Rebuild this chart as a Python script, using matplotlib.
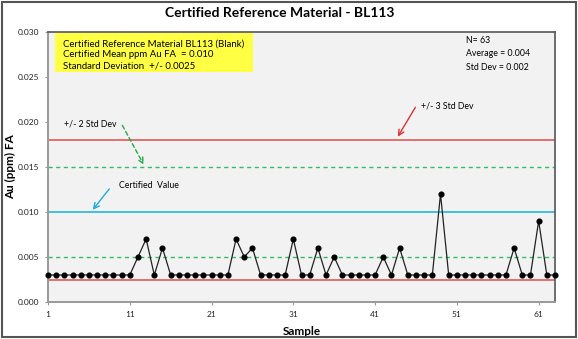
import matplotlib
matplotlib.use("Agg")
import matplotlib.pyplot as plt
from matplotlib.patches import Rectangle
from matplotlib.ticker import FormatStrFormatter

plt.rcParams["font.family"] = ["Lato", "DejaVu Sans"]

# assay results for the blank standard, samples 1..63
samples = list(range(1, 64))
au_ppm = [
    0.003, 0.003, 0.003, 0.003, 0.003, 0.003, 0.003, 0.003, 0.003, 0.003,
    0.003, 0.005, 0.007, 0.003, 0.006, 0.003, 0.003, 0.003, 0.003, 0.003,
    0.003, 0.003, 0.003, 0.007, 0.005, 0.006, 0.003, 0.003, 0.003, 0.003,
    0.007, 0.003, 0.003, 0.006, 0.003, 0.005, 0.003, 0.003, 0.003, 0.003,
    0.003, 0.005, 0.003, 0.006, 0.003, 0.003, 0.003, 0.003, 0.012, 0.003,
    0.003, 0.003, 0.003, 0.003, 0.003, 0.003, 0.003, 0.006, 0.003, 0.003,
    0.009, 0.003, 0.003,
]
certified_value = 0.010
two_sd_lines = [0.015, 0.005]
three_sd_lines = [0.018, 0.0025]
x_ticks = [1, 11, 21, 31, 41, 51, 61]
y_ticks = [0.000, 0.005, 0.010, 0.015, 0.020, 0.025, 0.030]
info_lines = [
    "Certified Reference Material BL113 (Blank)",
    "Certified Mean ppm Au FA  = 0.010",
    "Standard Deviation  +/- 0.0025",
]
stats_lines = ["N= 63", "Average = 0.004", "Std Dev = 0.002"]

fig = plt.figure(figsize=(5.78, 3.39), dpi=100)
ax = fig.add_axes([48 / 578, 1 - 302 / 339, 507 / 578, 270 / 339])
ax.set_facecolor("#f2f2f2")

for y in three_sd_lines:
    ax.axhline(y, color="#e06666", lw=1.3, zorder=2)
for y in two_sd_lines:
    ax.axhline(y, color="#33bb66", lw=1.0, ls=(0, (3, 2.5)), zorder=2)
ax.axhline(certified_value, color="#33bbdd", lw=1.3, zorder=2)

ax.plot(samples, au_ppm, color="#222222", lw=0.9, marker="o", ms=3.4,
        mfc="black", mec="black", zorder=4, clip_on=False)

ax.set_xlim(1, 63)
ax.set_ylim(0, 0.030)
ax.set_xticks(x_ticks)
ax.set_yticks(y_ticks)
ax.yaxis.set_major_formatter(FormatStrFormatter("%.3f"))
ax.tick_params(labelsize=6, length=2.5, pad=4, color="#999999", labelcolor="#222222")
ax.set_xlabel("Sample", fontsize=8.5, fontweight="bold")
ax.xaxis.set_label_coords(0.5, -0.09)
fig.text(11 / 578, 1 - 167 / 339, "Au (ppm) FA", rotation=90, ha="center", va="center",
         fontsize=8.5, fontweight="bold")
for side in ("left", "bottom"):
    ax.spines[side].set_color("#999999")
    ax.spines[side].set_linewidth(1.4)
for side in ("top", "right"):
    ax.spines[side].set_color("#555555")
    ax.spines[side].set_linewidth(1.2)

fig.text(0.484, 0.962, "Certified Reference Material - BL113", ha="center", va="center",
         fontsize=10, fontweight="bold")

# yellow info box
ax.add_patch(Rectangle((0.014, 0.852), 0.39, 0.144, transform=ax.transAxes,
                       facecolor="#ffff44", edgecolor="none", zorder=5))
for i, line in enumerate(info_lines):
    ax.text(0.030, 0.956 - i * 0.041, line, transform=ax.transAxes, fontsize=6.9,
            va="center", ha="left", zorder=6)
for i, line in enumerate(stats_lines):
    ax.text(0.824, [0.967, 0.922, 0.867][i], line, transform=ax.transAxes,
            fontsize=6.3, va="center", ha="left")

ax.annotate("", xy=(43.6, 0.0181), xytext=(46.1, 0.0219),
            arrowprops=dict(arrowstyle="->", color="#dd3333", lw=1.0))
ax.text(46.6, 0.0218, "+/- 3 Std Dev", fontsize=6.3, va="center", ha="left")
ax.annotate("", xy=(12.86, 0.0150), xytext=(9.93, 0.0199),
            arrowprops=dict(arrowstyle="->", color="#22aa44", lw=1.0, ls=(0, (3, 2))))
ax.text(2.96, 0.0198, "+/- 2 Std Dev", fontsize=6.3, va="center", ha="left")
ax.annotate("", xy=(6.26, 0.0100), xytext=(8.7, 0.0128),
            arrowprops=dict(arrowstyle="->", color="#22aadd", lw=1.0))
ax.text(9.68, 0.0129, "Certified  Value", fontsize=6.3, va="center", ha="left")

fig.add_artist(Rectangle((0.004, 0.006), 0.992, 0.988, transform=fig.transFigure,
                         fill=False, edgecolor="#555555", lw=1.5))

fig.savefig("out.png", dpi=100)
